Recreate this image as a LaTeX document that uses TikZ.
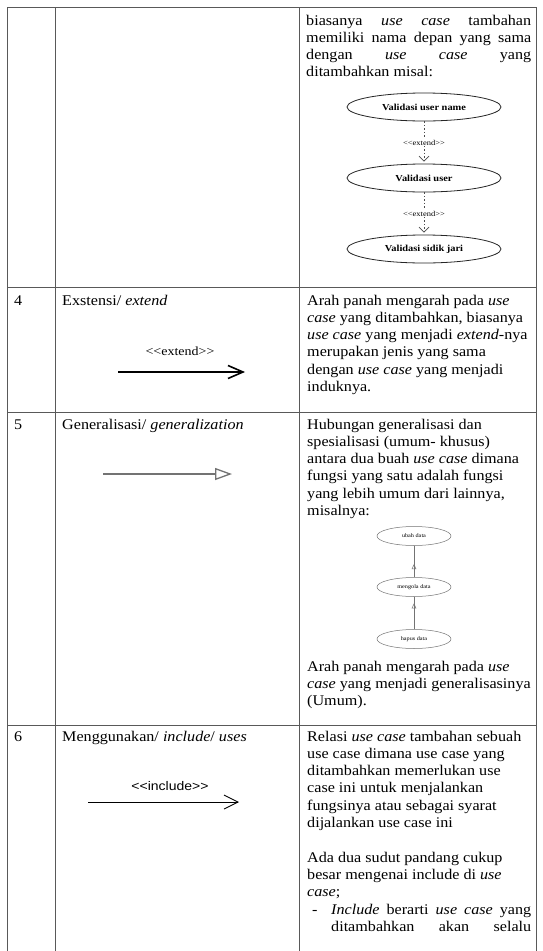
\documentclass[tikz,border=0pt]{standalone}
\usepackage{fontspec}
\setmainfont{Liberation Serif}[FakeStretch=1.09]
\newfontfamily\labsans{Liberation Sans}[FakeStretch=1.12]
\newfontfamily\ucfont{Liberation Serif}[FakeStretch=1.13]
\usetikzlibrary{arrows.meta,shapes.geometric,decorations.markings}

% stereotype label with the angle brackets kept apart (no guillemet ligature)
\newcommand{\stereo}[1]{<\kern0pt<#1>\kern0pt>}
% a line of text stretched to the full width of its column
\newcommand{\jline}[2]{\makebox[#1][s]{#2}}

\tikzset{
  grid/.style={draw=black!65, line width=0.9pt},
  body/.style={anchor=base west, inner sep=0pt, font=\fontsize{14.8}{17}\selectfont},
  uc/.style={draw=black!85, ellipse, line width=0.8pt, minimum width=154pt,
    minimum height=28pt, inner sep=0pt, font=\ucfont\fontsize{9.2}{10}\selectfont\bfseries},
  ucs/.style={draw=black!55, ellipse, line width=0.5pt, minimum width=74pt,
    minimum height=19pt, inner sep=0pt, font=\ucfont\fontsize{5.5}{6}\selectfont},
  extlink/.style={draw=black!70, dash pattern=on 1.5pt off 2pt, line width=0.6pt,
    shorten >=2pt, -{Straight Barb[length=5pt,width=10pt,line width=0.7pt]}},
  extlab/.style={fill=white, inner sep=1pt, font=\ucfont\fontsize{7.5}{8}\selectfont},
  genlink/.style={draw=black!55, line width=0.6pt, postaction={decorate}},
}

\begin{document}
\begin{tikzpicture}[x=1pt,y=-1pt]
\fill[white] (0,0) rectangle (542,951);
\useasboundingbox (0,0) rectangle (542,951);

% table frame
\draw[grid] (7,7) -- (536,7);
\draw[grid] (7,287) -- (536,287);
\draw[grid] (7,412) -- (536,412);
\draw[grid] (7,725) -- (536,725);
\draw[grid] (7,7) -- (7,951);
\draw[grid] (55,7) -- (55,951);
\draw[grid] (299,7) -- (299,951);
\draw[grid] (536,7) -- (536,951);

% ---- row 3 (continued): extend example ----
\node[body] (t1) at (306,25.0) {\jline{225pt}{biasanya \textit{use} \textit{case} tambahan}};
\node[body] (t2) at (306,42.3) {\jline{225pt}{memiliki nama depan yang sama}};
\node[body] (t3) at (306,59.6) {\jline{225pt}{dengan \textit{use} \textit{case} yang}};
\node[body] (t4) at (306,76.9) {ditambahkan misal:};

\node[uc] (vun) at (424,107) {Validasi user name};
\node[uc] (vu)  at (424,178) {Validasi user};
\node[uc] (vsj) at (424,249) {Validasi sidik jari};
\draw[extlink] (vun) -- node[extlab] (x1) {\stereo{extend}} (vu);
\draw[extlink] (vu) -- node[extlab] (x2) {\stereo{extend}} (vsj);

% ---- row 4: extend ----
\node[body] (n4) at (14,305) {4};
\node[body] (h4) at (62,305) {Exstensi/ \textit{extend}};
\node[inner sep=0pt, font=\ucfont\fontsize{12.4}{14}\selectfont] (elab) at (180,351) {\stereo{extend}};
\coordinate (e1) at (118,372);
\coordinate (e2) at (245,372);
\draw[line width=1.8pt, -{Straight Barb[length=15pt,width=13pt,line width=1.6pt]}] (e1) -- (e2);

\node[body] (a1) at (307,305.0) {Arah panah mengarah pada \textit{use}};
\node[body] (a2) at (307,322.3) {\textit{case} yang ditambahkan, biasanya};
\node[body] (a3) at (307,339.6) {\textit{use case} yang menjadi \textit{extend}-nya};
\node[body] (a4) at (307,356.9) {merupakan jenis yang sama};
\node[body] (a5) at (307,374.2) {dengan \textit{use case} yang menjadi};
\node[body] (a6) at (307,391.5) {induknya.};

% ---- row 5: generalization ----
\node[body] (n5) at (14,429) {5};
\node[body] (h5) at (62,429) {Generalisasi/ \textit{generalization}};
\coordinate (g1) at (103,474);
\coordinate (g2) at (232,474);
\draw[draw=black!55, line width=1.3pt,
  -{Triangle[open,length=17pt,width=12pt,line width=1.3pt]}] (g1) -- (g2);

\node[body] (b1) at (307,429.0) {Hubungan generalisasi dan};
\node[body] (b2) at (307,446.3) {spesialisasi (umum- khusus)};
\node[body] (b3) at (307,463.6) {antara dua buah \textit{use case} dimana};
\node[body] (b4) at (307,480.9) {fungsi yang satu adalah fungsi};
\node[body] (b5) at (307,498.2) {yang lebih umum dari lainnya,};
\node[body] (b6) at (307,515.5) {misalnya:};

\node[ucs] (ubah) at (414,536) {ubah data};
\node[ucs] (mgl)  at (414,587) {mengola data};
\node[ucs] (hps)  at (414,639) {hapus data};
\draw[genlink, decoration={markings, mark=at position 0.42 with
  {\arrow{Triangle[open,length=5pt,width=4.5pt,line width=0.5pt]}}}] (mgl) -- (ubah);
\draw[genlink, decoration={markings, mark=at position 0.8 with
  {\arrow{Triangle[open,length=5pt,width=4.5pt,line width=0.5pt]}}}] (hps) -- (mgl);

\node[body] (b7) at (307,671.2) {Arah panah mengarah pada \textit{use}};
\node[body] (b8) at (307,688.5) {\textit{case} yang menjadi generalisasinya};
\node[body] (b9) at (307,705.8) {(Umum).};

% ---- row 6: include ----
\node[body] (n6) at (14,741) {6};
\node[body] (h6) at (62,741) {Menggunakan/ \textit{include}/ \textit{uses}};
\node[inner sep=0pt, font=\labsans\fontsize{12.5}{14}\selectfont] (ilab) at (170,786) {\stereo{include}};
\coordinate (i1) at (88,802);
\coordinate (i2) at (239,802);
\draw[line width=0.9pt, -{Straight Barb[length=14pt,width=14pt,line width=0.9pt]}] (i1) -- (i2);

\node[body] (c1)  at (307,741.0) {Relasi \textit{use case} tambahan sebuah};
\node[body] (c2)  at (307,758.3) {use case dimana use case yang};
\node[body] (c3)  at (307,775.6) {ditambahkan memerlukan use};
\node[body] (c4)  at (307,792.9) {case ini untuk menjalankan};
\node[body] (c5)  at (307,810.2) {fungsinya atau sebagai syarat};
\node[body] (c6)  at (307,827.5) {dijalankan use case ini};
\node[body] (c7)  at (307,862.1) {Ada dua sudut pandang cukup};
\node[body] (c8)  at (307,879.4) {besar mengenai include di \textit{use}};
\node[body] (c9)  at (307,896.7) {\textit{case};};
\node[body] (c10) at (312,914.0) {-};
\node[body] (c11) at (331,914.0) {\jline{200pt}{\textit{Include} berarti \textit{use case} yang}};
\node[body] (c12) at (331,931.3) {\jline{200pt}{ditambahkan akan selalu}};
\end{tikzpicture}
\end{document}
